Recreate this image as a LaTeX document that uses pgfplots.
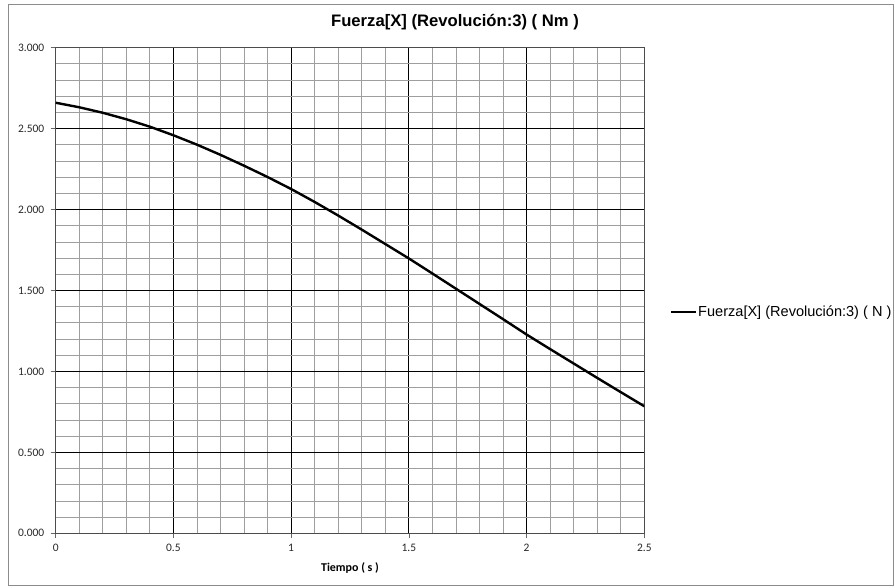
\documentclass[border=0pt]{standalone}
\usepackage{pgfplots}
\pgfplotsset{compat=1.18}
\usepackage{fontspec}
\setmainfont{Liberation Sans}
\newfontfamily\carlito{Carlito}
\begin{document}
\begin{tikzpicture}[x=1bp,y=1bp]
\path[use as bounding box] (0,0) rectangle (895,-588);
\draw[black!45, line width=0.8bp] (8,-4) rectangle (893,-585);
\node[font=\bfseries\fontsize{16.7}{19}\selectfont] at (455,-22) {Fuerza[X] (Revolución:3) ( Nm )};
\begin{axis}[
  at={(55.7bp,-533.3bp)}, anchor=south west,
  scale only axis, width=588.6bp, height=485.6bp,
  xmin=0, xmax=2.5, ymin=0, ymax=3,
  xtick={0,0.5,1,1.5,2,2.5}, ytick={0,0.5,1,1.5,2,2.5,3},
  minor x tick num=4, minor y tick num=4,
  grid=both,
  major grid style={black, line width=0.8bp},
  minor grid style={black!38, line width=0.8bp},
  axis line style={black!70, line width=0.9bp},
  tick align=outside, major tick length=5bp, minor tick length=0pt,
  tick style={black!60, line width=0.7bp},
  xtick pos=bottom, ytick pos=left,
  /pgf/number format/assume math mode=true,
  ticklabel style={font=\carlito\fontsize{11.5}{13}\selectfont, text=black!85},
  yticklabel style={/pgf/number format/.cd, fixed, fixed zerofill, precision=3, /tikz/.cd, xshift=-3bp},
  xticklabel style={/pgf/number format/.cd, fixed, /tikz/.cd, yshift=-2bp},
  xlabel={Tiempo ( s )},
  xlabel style={font=\carlito\bfseries\fontsize{12}{14}\selectfont, yshift=-4bp},
  legend style={at={(1.0437,0.4557)}, anchor=west, draw=none, fill=none,
    font=\fontsize{14.6}{16}\selectfont, inner xsep=0pt, inner ysep=0pt,
    nodes={inner xsep=1bp}},
  legend cell align=left,
  legend image code/.code={\draw[#1, line width=2bp] (0,0) -- (25bp,0);},
]
\addplot[black, line width=2.4bp] coordinates {
(0.0,2.660) (0.1,2.632) (0.2,2.598) (0.3,2.558) (0.4,2.512) (0.5,2.459)
(0.6,2.401) (0.7,2.338) (0.8,2.271) (0.9,2.201) (1.0,2.127) (1.1,2.047)
(1.2,1.963) (1.3,1.876) (1.4,1.787) (1.5,1.698) (1.6,1.605) (1.7,1.511)
(1.8,1.417) (1.9,1.323) (2.0,1.228) (2.1,1.138) (2.2,1.049) (2.3,0.960)
(2.4,0.872) (2.5,0.785)
};
\addlegendentry{Fuerza[X] (Revolución:3) ( N )}
\end{axis}
\end{tikzpicture}
\end{document}
